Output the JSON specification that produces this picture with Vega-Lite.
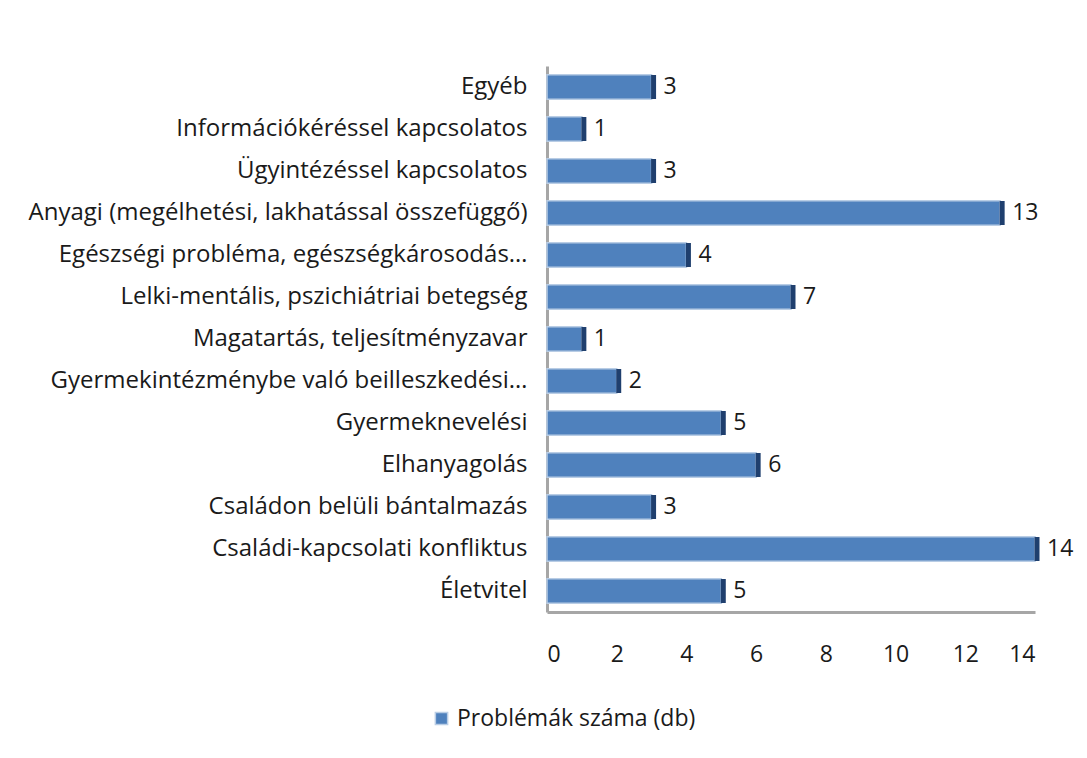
{
  "$schema": "https://vega.github.io/schema/vega-lite/v6.json",
  "autosize": "none",
  "width": 488,
  "height": 546,
  "padding": {"left": 547, "top": 66, "right": 52, "bottom": 146},
  "background": "white",
  "config": {
    "view": {"stroke": null},
    "font": "Open Sans"
  },
  "data": {
    "values": [
      {"kategoria": "Egyéb", "db": 3},
      {"kategoria": "Információkéréssel kapcsolatos", "db": 1},
      {"kategoria": "Ügyintézéssel kapcsolatos", "db": 3},
      {"kategoria": "Anyagi (megélhetési, lakhatással összefüggő)", "db": 13},
      {"kategoria": "Egészségi probléma, egészségkárosodás…", "db": 4},
      {"kategoria": "Lelki-mentális, pszichiátriai betegség", "db": 7},
      {"kategoria": "Magatartás, teljesítményzavar", "db": 1},
      {"kategoria": "Gyermekintézménybe való beilleszkedési…", "db": 2},
      {"kategoria": "Gyermeknevelési", "db": 5},
      {"kategoria": "Elhanyagolás", "db": 6},
      {"kategoria": "Családon belüli bántalmazás", "db": 3},
      {"kategoria": "Családi-kapcsolati konfliktus", "db": 14},
      {"kategoria": "Életvitel", "db": 5}
    ]
  },
  "encoding": {
    "y": {
      "field": "kategoria",
      "type": "nominal",
      "sort": null,
      "scale": {"paddingInner": 0.42, "paddingOuter": 0.21},
      "axis": {
        "title": null,
        "ticks": false,
        "domain": true,
        "domainColor": "#A6A6A6",
        "domainWidth": 3,
        "labelFontSize": 24,
        "labelColor": "#1a1a1a",
        "labelPadding": 20,
        "labelLimit": 700
      }
    },
    "x": {
      "field": "db",
      "type": "quantitative",
      "scale": {"domain": [0, 14], "nice": false},
      "axis": {
        "title": null,
        "grid": false,
        "ticks": false,
        "values": [0, 2, 4, 6, 8, 10, 12, 14],
        "domainColor": "#A6A6A6",
        "domainWidth": 3,
        "labelFontSize": 23,
        "labelColor": "#1a1a1a",
        "labelPadding": 31
      }
    }
  },
  "layer": [
    {
      "mark": {"type": "bar", "stroke": "#B9CDE5", "strokeWidth": 1.5},
      "encoding": {
        "color": {
          "datum": "Problémák száma (db)",
          "type": "nominal",
          "scale": {"range": ["#4F81BD"]},
          "legend": {
            "title": null,
            "orient": "none",
            "legendX": -117,
            "legendY": 641,
            "symbolType": "square",
            "symbolSize": 150,
            "labelFontSize": 23,
            "labelColor": "#1a1a1a",
            "labelLimit": 400
          }
        }
      }
    },
    {
      "mark": {"type": "tick", "orient": "vertical", "color": "#1F3F6E", "opacity": 1, "thickness": 5, "size": 24, "xOffset": 2},
      "encoding": {}
    },
    {
      "mark": {"type": "text", "align": "left", "baseline": "middle", "dx": 12, "fontSize": 23, "color": "#1a1a1a"},
      "encoding": {"text": {"field": "db", "type": "quantitative"}}
    }
  ]
}
